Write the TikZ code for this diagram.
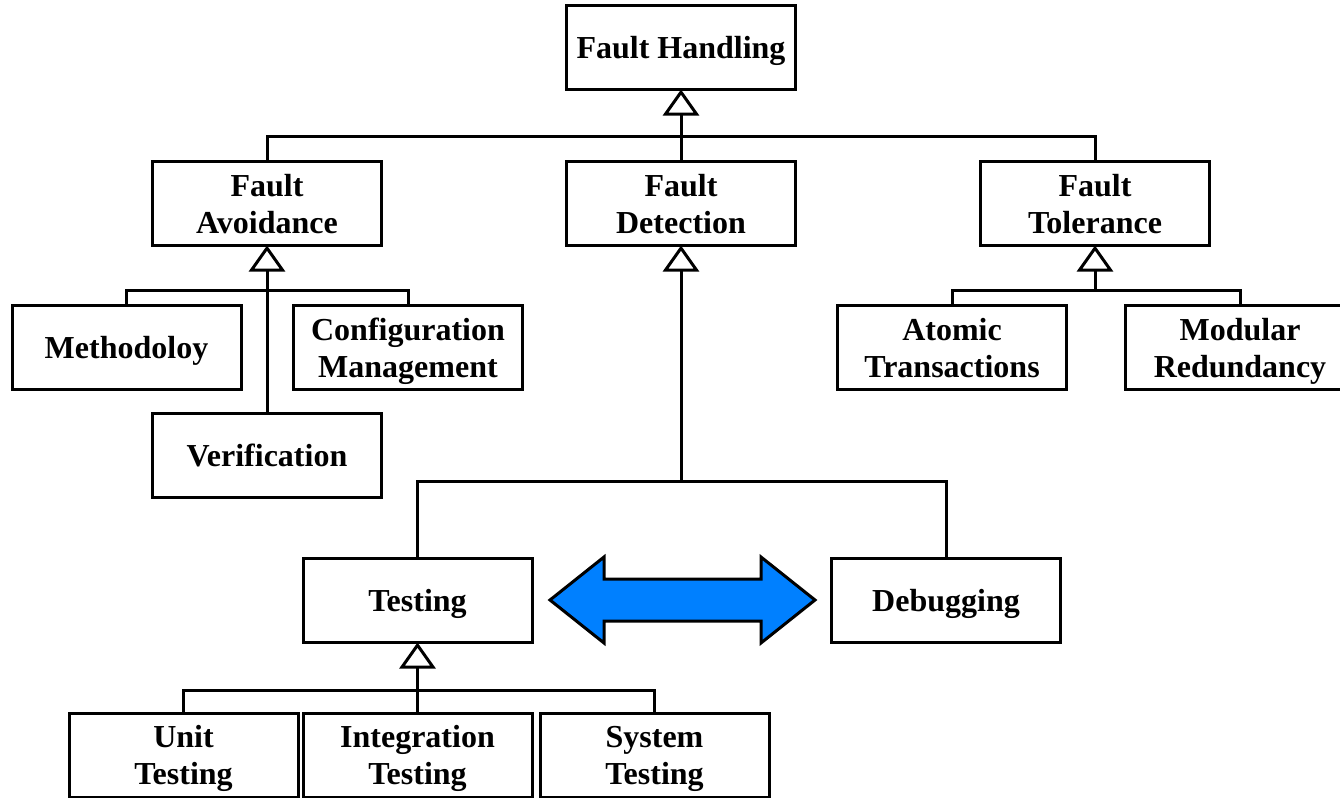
\documentclass[tikz,border=0pt]{standalone}
\usepackage{fontspec}
\setmainfont{Liberation Serif}
\usetikzlibrary{positioning,arrows.meta}
\definecolor{arrowblue}{RGB}{0,128,255}

\begin{document}
\begin{tikzpicture}[x=0.5pt, y=-0.5pt, line width=1.5pt,
    faultbox/.style={draw, line width=1.5pt, minimum width=114.5pt, minimum height=42pt, inner sep=0pt, outer sep=0pt, text depth=0pt, align=center, font=\bfseries\fontsize{16}{18.5}\selectfont},
    link/.style={line width=1.5pt},
    genline/.style={line width=1.5pt, -{Triangle[open, width=18pt, length=13pt]}}]
            \useasboundingbox (0,0) rectangle (1340,798);

            % Root
            \node[faultbox] (handling) at (681,47.5) {Fault Handling};

            % Second level
            \node[faultbox, below=36pt of handling] (detection) {Fault\\Detection};
            \node[faultbox, left=92.5pt of detection] (avoidance) {Fault\\Avoidance};
            \node[faultbox, right=92.5pt of detection] (tolerance) {Fault\\Tolerance};

            % Fault avoidance children
            \node[faultbox] (methodology) at (126.5,347.5) {Methodoloy};
            \node[faultbox] (config) at (408,347.5) {Configuration\\Management};
            \node[faultbox, below=84pt of avoidance] (verification) {Verification};

            % Fault tolerance children
            \node[faultbox] (atomic) at (952,347.5) {Atomic\\Transactions};
            \node[faultbox] (modular) at (1240,347.5) {Modular\\Redundancy};

            % Fault detection children
            \node[faultbox] (testing) at (417.5,600.5) {Testing};
            \node[faultbox] (debugging) at (946,600.5) {Debugging};

            % Testing children
            \node[faultbox] (unit) at (183.5,755) {Unit\\Testing};
            \node[faultbox] (integration) at (417.5,755) {Integration\\Testing};
            \node[faultbox] (system) at (654.5,755) {System\\Testing};

            % Bus points
            \coordinate (hbus) at (681,136);
            \coordinate (abus) at (avoidance.south |- 0,290);
            \coordinate (tbus) at (tolerance.south |- 0,290);
            \coordinate (dbus) at (681,481);
            \coordinate (tstbus) at (testing.south |- 0,690);

            % Generalization links
            \draw[genline] (detection.north) -- (handling.south);
            \draw[link] (avoidance.north) |- (hbus) -| (tolerance.north);

            \draw[genline] (verification.north) -- (avoidance.south);
            \draw[link] (methodology.north) |- (abus) -| (config.north);

            \draw[genline] (tbus) -- (tolerance.south);
            \draw[link] (atomic.north) |- (tbus) -| (modular.north);

            \draw[genline] (dbus) -- (detection.south);
            \draw[link] (testing.north) |- (dbus) -| (debugging.north);

            \draw[genline] (integration.north) -- (testing.south);
            \draw[link] (unit.north) |- (tstbus) -| (system.north);

            % Double arrow between testing and debugging
            \draw[line width=1.5pt, fill=arrowblue, line join=miter]
            (550,600) -- (604,557) -- (604,579) -- (761,579) -- (761,557)
            -- (815,600) -- (761,643) -- (761,621) -- (604,621) -- (604,643) -- cycle;
        \end{tikzpicture}
\end{document}
